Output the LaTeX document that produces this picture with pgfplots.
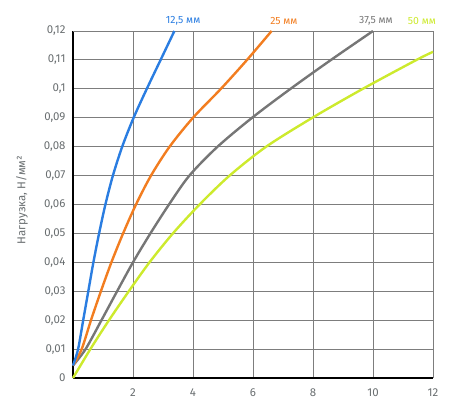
\documentclass[border=0pt]{standalone}
\usepackage{fontspec}
\setmainfont{Fira Sans}
\usepackage{pgfplots}
\pgfplotsset{compat=1.18}
\definecolor{cblue}{RGB}{42,125,225}
\definecolor{corange}{RGB}{242,125,32}
\definecolor{cgray}{RGB}{118,118,118}
\definecolor{cyel}{RGB}{205,234,45}
\definecolor{ctext}{RGB}{105,110,112}
\definecolor{cgrid}{RGB}{125,125,125}
\begin{document}
\begin{tikzpicture}
\useasboundingbox (-73bp,-22bp) rectangle (397bp,378bp);
\begin{axis}[
  at={(0,0)}, anchor=origin,
  scale only axis, width=360bp, height=347bp,
  xmin=0, xmax=12, ymin=0, ymax=0.12,
  xtick={2,4,6,8,10,12},
  ytick={0,0.01,0.02,0.03,0.04,0.05,0.06,0.07,0.08,0.09,0.1,0.11,0.12},
  yticklabels={0,{0,01},{0,02},{0,03},{0,04},{0,05},{0,06},{0,07},{0,08},{0,09},{0,1},{0,11},{0,12}},
  /pgf/number format/assume math mode=true,
  major tick length=0pt,
  grid=major,
  major grid style={draw=cgrid, line width=0.9bp},
  axis line style={draw=black, line width=2bp},
  axis x line*=bottom, axis y line*=left,
  tick label style={text=ctext, font=\fontsize{11.5}{13}\selectfont},
  xticklabel style={yshift=-7bp},
  yticklabel style={xshift=-4bp},
  clip=false,
  every axis plot/.append style={line width=2.4bp, smooth, mark=none},
]
\addplot[draw=cgrid, line width=0.9bp, sharp plot] coordinates {(0,0.12) (12,0.12) (12,0)};
\addplot[cyel] coordinates {(0,0) (0.58,0.01) (1.2,0.02) (1.86,0.03) (2.55,0.04) (3.33,0.05) (4.22,0.06) (5.22,0.07) (6.44,0.08) (7.98,0.09) (9.66,0.1) (11.45,0.11) (12,0.1128)};
\addplot[cgray] coordinates {(0,0.0043) (0.42,0.01) (0.95,0.02) (1.47,0.03) (2.0,0.04) (2.58,0.05) (3.2,0.06) (3.88,0.07) (4.82,0.08) (5.97,0.09) (7.25,0.1) (8.6,0.11) (10.0,0.12)};
\addplot[corange] coordinates {(0,0.0043) (0.29,0.01) (0.6,0.02) (0.93,0.03) (1.28,0.04) (1.67,0.05) (2.1,0.06) (2.6,0.07) (3.22,0.08) (4.0,0.09) (4.93,0.1) (5.8,0.11) (6.62,0.12)};
\addplot[cblue] coordinates {(0,0.0043) (0.17,0.01) (0.34,0.02) (0.51,0.03) (0.68,0.04) (0.87,0.05) (1.08,0.06) (1.33,0.07) (1.64,0.08) (2.02,0.09) (2.46,0.1) (2.92,0.11) (3.38,0.12)};
\node[text=cblue, font=\fontsize{10.5}{12}\selectfont] at ([yshift=10bp]axis cs:3.67,0.12) {12,5 мм};
\node[text=corange, font=\fontsize{10.5}{12}\selectfont] at ([yshift=10bp]axis cs:7.03,0.12) {25 мм};
\node[text=cgray, font=\fontsize{10.5}{12}\selectfont] at ([yshift=10bp]axis cs:10.1,0.12) {37,5 мм};
\node[text=cyel, font=\fontsize{10.5}{12}\selectfont] at ([yshift=10bp]axis cs:11.63,0.12) {50 мм};
\node[rotate=90, text=ctext, font=\fontsize{11.5}{13}\selectfont] at ([xshift=-51bp]rel axis cs:0,0.513) {Нагрузка, Н/мм²};
\end{axis}
\end{tikzpicture}
\end{document}
